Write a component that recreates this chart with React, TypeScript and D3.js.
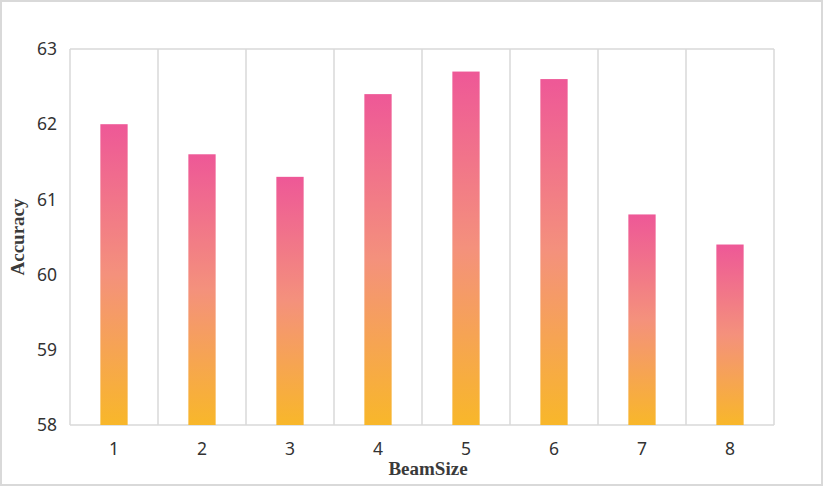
import React from "react";
import * as d3 from "d3";

const categories = ["1", "2", "3", "4", "5", "6", "7", "8"];
const accuracy = [62.0, 61.6, 61.3, 62.4, 62.7, 62.6, 60.8, 60.4];
const yTicks = [58, 59, 60, 61, 62, 63];

export default function App() {
  const W = 824, H = 499;
  const left = 70, right = 774, top = 49, bottom = 425;
  const x = d3.scaleBand<string>().domain(categories).range([left, right]).paddingInner(0).paddingOuter(0);
  const y = d3.scaleLinear().domain([58, 63]).range([bottom, top]);
  const bw = x.bandwidth() * 0.31;
  const grid = "#d9d9d9";
  const tickFont = "'Noto Sans', 'Open Sans', sans-serif";
  const titleFont = "'Liberation Serif', 'Times New Roman', serif";
  return (
    <div style={{ position: "absolute", left: 0, top: 0 }}>
      <svg width={W} height={H} style={{ display: "block" }}>
        <defs>
          <linearGradient id="barGrad" x1="0" y1="0" x2="0" y2="1">
            <stop offset="0%" stopColor="#EE5897" />
            <stop offset="50%" stopColor="#F4917C" />
            <stop offset="100%" stopColor="#F8B72A" />
          </linearGradient>
        </defs>
        <rect x={1} y={1} width={821} height={484} fill="#fff" stroke={grid} strokeWidth={2} />
        {categories.map((c, i) => (
          <line key={"g" + i} x1={x(c)!} x2={x(c)!} y1={top} y2={bottom} stroke={grid} strokeWidth={1.5} />
        ))}
        <line x1={right} x2={right} y1={top} y2={bottom} stroke={grid} strokeWidth={1.5} />
        <line x1={left} x2={right} y1={top} y2={top} stroke={grid} strokeWidth={1.5} />
        <line x1={left} x2={right} y1={bottom} y2={bottom} stroke={grid} strokeWidth={1.5} />
        {categories.map((c, i) => (
          <rect
            key={"b" + i}
            x={x(c)! + x.bandwidth() / 2 - bw / 2}
            y={y(accuracy[i])}
            width={bw}
            height={y(58) - y(accuracy[i])}
            fill="url(#barGrad)"
          />
        ))}
        {yTicks.map((t) => (
          <text key={"y" + t} x={57} y={y(t)} dy="0.35em" textAnchor="end" fontFamily={tickFont} fontSize={17.5} fill="#333">
            {t}
          </text>
        ))}
        {categories.map((c) => (
          <text key={"x" + c} x={x(c)! + x.bandwidth() / 2} y={449} dy="0.35em" textAnchor="middle" fontFamily={tickFont} fontSize={17.5} fill="#333">
            {c}
          </text>
        ))}
        <text x={428} y={475} textAnchor="middle" fontFamily={titleFont} fontWeight="bold" fontSize={19} fill="#3a3a3a">
          BeamSize
        </text>
        <text transform={`translate(24,237) rotate(-90)`} textAnchor="middle" fontFamily={titleFont} fontWeight="bold" fontSize={19} fill="#3a3a3a">
          Accuracy
        </text>
      </svg>
    </div>
  );
}
